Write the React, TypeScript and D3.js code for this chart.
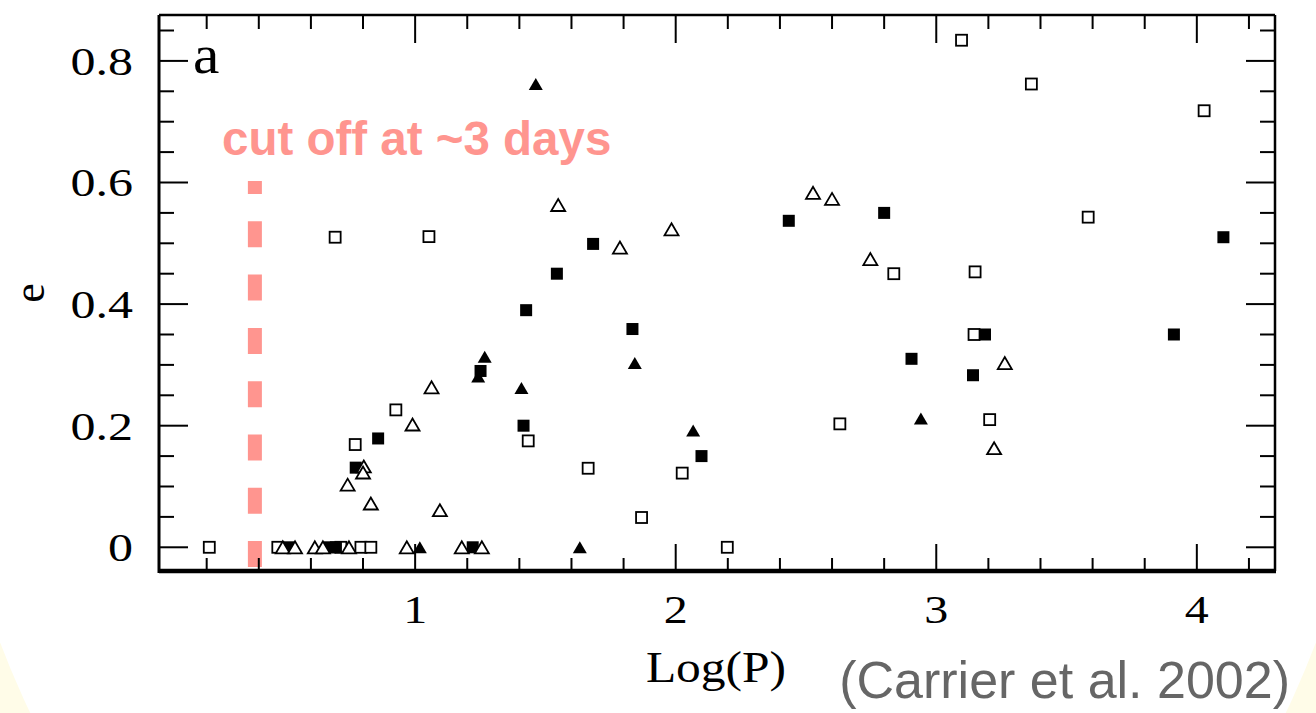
import React from "react";
import * as d3 from "d3";

// ---- data (Log(P), e) ----
const openSquares: [number, number][] = [
  [0.21, 0], [0.473, 0], [0.715, 0], [0.792, 0], [0.83, 0], [2.198, 0],
  [0.693, 0.51], [1.053, 0.511], [0.926, 0.226], [0.77, 0.169], [1.434, 0.175],
  [1.664, 0.13], [2.025, 0.122], [1.869, 0.049], [2.63, 0.203], [2.837, 0.45],
  [3.149, 0.453], [3.145, 0.35], [3.205, 0.21], [3.097, 0.834], [3.365, 0.762],
  [4.028, 0.718], [3.583, 0.543],
];
const filledSquares: [number, number][] = [
  [0.519, 0], [0.673, 0], [0.696, 0], [1.221, 0],
  [0.858, 0.179], [0.772, 0.131], [1.251, 0.29], [1.416, 0.2], [2.099, 0.15],
  [1.683, 0.499], [1.544, 0.45], [1.426, 0.39], [1.834, 0.359], [2.434, 0.537],
  [2.8, 0.55], [3.187, 0.35], [2.905, 0.31], [3.141, 0.283], [4.102, 0.51], [3.912, 0.35],
];
const openTriangles: [number, number][] = [
  [0.492, 0], [0.539, 0], [0.615, 0], [0.646, 0], [0.746, 0], [0.968, 0], [1.179, 0], [1.256, 0],
  [1.063, 0.263], [0.99, 0.202], [0.803, 0.133], [0.8, 0.123], [0.741, 0.103], [0.83, 0.072],
  [1.095, 0.061], [1.549, 0.563], [1.786, 0.493], [1.984, 0.523], [2.527, 0.583], [2.6, 0.573],
  [2.747, 0.474], [3.263, 0.303], [3.222, 0.163],
];
const filledTriangles: [number, number][] = [
  [1.018, 0], [1.632, 0], [1.267, 0.3135], [1.242, 0.281], [1.408, 0.262],
  [1.843, 0.303], [2.067, 0.192], [1.463, 0.762], [2.941, 0.212],
];
const xMajorTicks = [1, 2, 3, 4];
const yMajorTicks = [0, 0.2, 0.4, 0.6, 0.8];
const yTickLabels = ["0", "0.2", "0.4", "0.6", "0.8"];
const cutoffLogP = 0.385;
const cutoffRange: [number, number] = [0.6025, -0.034];

const W = 1316, H = 713;
const L = 159, R = 1275, T = 15, B = 571;

export default function App() {
  const x = d3.scaleLinear().domain([0.017, 4.3]).range([L, R]);
  const y = d3.scaleLinear().domain([-0.039, 0.8755]).range([B, T]);

  const xMinor = d3.range(1, 22).map((i) => i * 0.2).filter((v) => v > 0.017 && v < 4.3);
  const yMinor = d3.range(0, 18).map((i) => i * 0.05).filter((v) => v < 0.875);
  const isXMajor = (v: number) => Math.abs(v - Math.round(v)) < 1e-6;
  const isYMajor = (v: number) => Math.abs(v * 5 - Math.round(v * 5)) < 1e-6;

  const sq = 11;
  const triW = 14, triH = 12;
  const triPath = (cx: number, cy: number) =>
    `M${cx - triW / 2},${cy + triH / 2}L${cx + triW / 2},${cy + triH / 2}L${cx},${cy - triH / 2}Z`;

  const serif = "'Liberation Serif', 'Times New Roman', serif";

  return (
    <svg width={W} height={H} style={{ position: "absolute", left: 0, top: 0 }}>
      <rect x={0} y={0} width={W} height={H} fill="#fffce8" />
      <ellipse cx={658} cy={300} rx={720} ry={843} fill="#ffffff" />

      {/* dashed cutoff line */}
      <line
        x1={x(cutoffLogP)} x2={x(cutoffLogP)}
        y1={y(cutoffRange[0])} y2={y(cutoffRange[1])}
        stroke="#ff958f" strokeWidth={14}
        strokeDasharray="26 27.3" strokeDashoffset={13}
      />
      <text x={222} y={155} fill="#ff958f" fontFamily="'Liberation Sans', Arial, sans-serif"
        fontWeight="bold" fontSize={47.5}>cut off at ~3 days</text>

      {/* frame */}
      <line x1={L} x2={R} y1={T} y2={T} stroke="#000" strokeWidth={2.5} />
      <line x1={R} x2={R} y1={T} y2={B} stroke="#000" strokeWidth={2.5} />
      <line x1={L} x2={L} y1={T} y2={B + 2} stroke="#000" strokeWidth={3} />
      <line x1={L} x2={R + 1} y1={B} y2={B} stroke="#000" strokeWidth={4.5} />

      {/* x ticks */}
      {xMinor.map((v, i) => {
        const len = isXMajor(v) ? 27 : 13;
        return (
          <g key={"xt" + i}>
            <line x1={x(v)} x2={x(v)} y1={B} y2={B - len} stroke="#000" strokeWidth={2} />
            <line x1={x(v)} x2={x(v)} y1={T} y2={T + len + 1} stroke="#000" strokeWidth={2} />
          </g>
        );
      })}
      {/* y ticks */}
      {yMinor.map((v, i) => {
        const len = isYMajor(v) ? 29 : 15;
        return (
          <g key={"yt" + i}>
            <line x1={L} x2={L + len} y1={y(v)} y2={y(v)} stroke="#000" strokeWidth={2} />
            <line x1={R} x2={R - len} y1={y(v)} y2={y(v)} stroke="#000" strokeWidth={2} />
          </g>
        );
      })}

      {/* tick labels */}
      {xMajorTicks.map((v) => (
        <text key={"xl" + v} transform={`translate(${x(v)},${623}) scale(1.2,1)`}
          textAnchor="middle" fontFamily={serif} fontSize={40} fill="#000">{v}</text>
      ))}
      {yMajorTicks.map((v, i) => (
        <text key={"yl" + v} transform={`translate(${133},${y(v) + 14}) scale(1.25,1)`}
          textAnchor="end" fontFamily={serif} fontSize={40} fill="#000">{yTickLabels[i]}</text>
      ))}

      {/* axis labels */}
      <text transform={`translate(716,682) scale(1.1,1)`} textAnchor="middle"
        fontFamily={serif} fontSize={45} fill="#000">Log(P)</text>
      <text transform={`translate(44,293) rotate(-90)`} textAnchor="middle"
        fontFamily={serif} fontSize={44} fill="#000">e</text>
      <text transform={`translate(193,73) scale(1.1,1)`} fontFamily={serif} fontSize={54} fill="#000">a</text>

      <text x={1290} y={698} textAnchor="end" fontFamily="'Liberation Sans', Arial, sans-serif"
        fontSize={52} fill="#666666">(Carrier et al. 2002)</text>

      {/* markers */}
      {openSquares.map(([px, py], i) => (
        <rect key={"os" + i} x={x(px) - sq / 2} y={y(py) - sq / 2} width={sq} height={sq}
          fill="#fff" stroke="#000" strokeWidth={1.8} />
      ))}
      {filledSquares.map(([px, py], i) => (
        <rect key={"fs" + i} x={x(px) - 6} y={y(py) - 6} width={12} height={12} fill="#000" />
      ))}
      {openTriangles.map(([px, py], i) => (
        <path key={"ot" + i} d={triPath(x(px), y(py))} fill="#fff" stroke="#000" strokeWidth={1.8}
          strokeLinejoin="miter" />
      ))}
      {filledTriangles.map(([px, py], i) => (
        <path key={"ft" + i} d={triPath(x(px), y(py))} fill="#000" />
      ))}
    </svg>
  );
}
